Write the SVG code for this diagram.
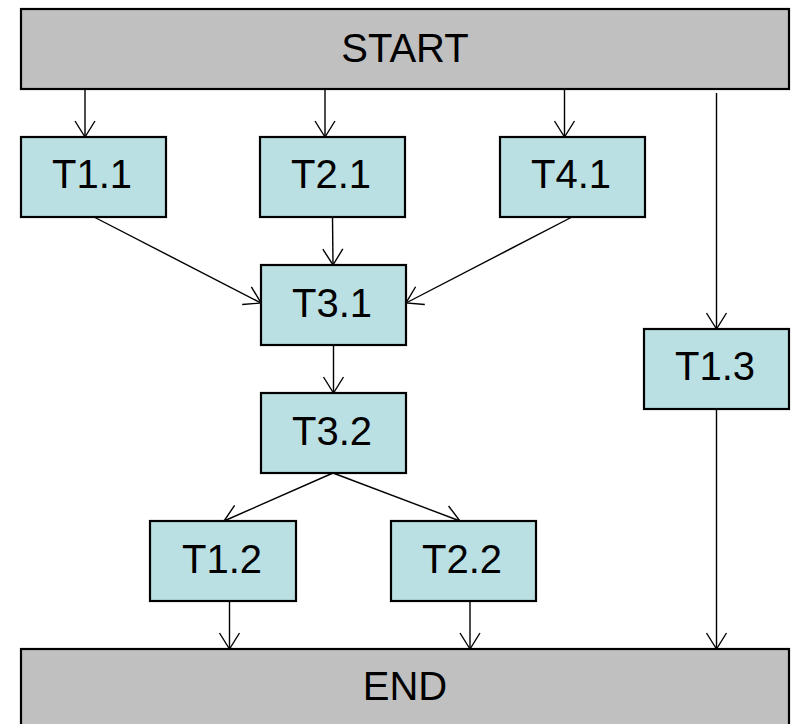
<svg xmlns="http://www.w3.org/2000/svg" width="793" height="724" viewBox="0 0 793 724">
<style>
.term{fill:#C0C0C0;stroke:#000;stroke-width:2.2}
.task{fill:#BBE0E3;stroke:#000;stroke-width:2.2}
.lbl{font-family:"Liberation Sans",Arial,sans-serif;font-size:40px;fill:#000;text-anchor:middle}
.edge{stroke:#000;stroke-width:1.4;fill:none;marker-end:url(#arr)}
</style>
<defs>
<marker id="arr" markerUnits="userSpaceOnUse" viewBox="-19 -12 21 24" markerWidth="21" markerHeight="24" refX="0" refY="0" orient="auto">
<path d="M-16,-10 L0,0 L-16,10" fill="none" stroke="#000" stroke-width="1.4"/>
</marker>
</defs>
<rect width="793" height="724" fill="#fff"/>
<g id="connectors">
<line class="edge" x1="85" y1="89" x2="85" y2="137"/>
<line class="edge" x1="325" y1="89" x2="325" y2="137"/>
<line class="edge" x1="564.5" y1="89" x2="564.5" y2="137"/>
<line class="edge" x1="716.5" y1="93" x2="716.5" y2="329"/>
<line class="edge" x1="94" y1="217" x2="261" y2="303"/>
<line class="edge" x1="332.5" y1="217" x2="333" y2="265"/>
<line class="edge" x1="572" y1="217" x2="406" y2="303"/>
<line class="edge" x1="333.5" y1="345" x2="333.5" y2="393"/>
<line class="edge" x1="333" y1="473" x2="224" y2="521"/>
<line class="edge" x1="333" y1="473" x2="460" y2="521"/>
<line class="edge" x1="229.5" y1="601" x2="229.5" y2="649"/>
<line class="edge" x1="470" y1="601" x2="470" y2="649"/>
<line class="edge" x1="716.5" y1="409" x2="716.5" y2="649"/>
</g>
<g id="start"><rect class="term" x="21" y="9" width="768" height="80"/><text class="lbl" x="405" y="62">START</text></g>
<g id="t11"><rect class="task" x="21" y="137" width="145" height="80"/><text class="lbl" x="92" y="188">T1.1</text></g>
<g id="t21"><rect class="task" x="260" y="137" width="145" height="80"/><text class="lbl" x="331" y="188">T2.1</text></g>
<g id="t41"><rect class="task" x="500" y="137" width="145" height="80"/><text class="lbl" x="571" y="188">T4.1</text></g>
<g id="t31"><rect class="task" x="261" y="265" width="145" height="80"/><text class="lbl" x="332" y="317">T3.1</text></g>
<g id="t32"><rect class="task" x="261" y="393" width="145" height="80"/><text class="lbl" x="332" y="445">T3.2</text></g>
<g id="t13"><rect class="task" x="644" y="329" width="145" height="80"/><text class="lbl" x="715" y="380">T1.3</text></g>
<g id="t12"><rect class="task" x="150" y="521" width="146" height="80"/><text class="lbl" x="222" y="573">T1.2</text></g>
<g id="t22"><rect class="task" x="391" y="521" width="145" height="80"/><text class="lbl" x="462" y="573">T2.2</text></g>
<g id="end"><rect class="term" x="21" y="649" width="768" height="82"/><text class="lbl" x="405" y="700">END</text></g>
</svg>
